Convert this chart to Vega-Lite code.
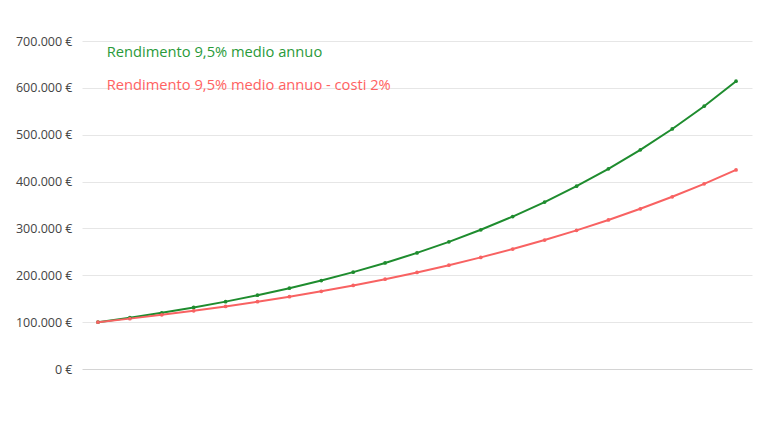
{
  "$schema": "https://vega.github.io/schema/vega-lite/v6.json",
  "width": 670,
  "height": 328,
  "autosize": "none",
  "padding": {"left": 82, "top": 41, "right": 16, "bottom": 63},
  "config": {
    "font": "Open Sans",
    "view": {"stroke": null},
    "locale": {"number": {"decimal": ",", "thousands": ".", "grouping": [3], "currency": ["", " €"]}}
  },
  "data": {"values": [
    {"anno": 0, "serie": "Rendimento 9,5% medio annuo", "valore": 100000},
    {"anno": 1, "serie": "Rendimento 9,5% medio annuo", "valore": 109500},
    {"anno": 2, "serie": "Rendimento 9,5% medio annuo", "valore": 119903},
    {"anno": 3, "serie": "Rendimento 9,5% medio annuo", "valore": 131293},
    {"anno": 4, "serie": "Rendimento 9,5% medio annuo", "valore": 143766},
    {"anno": 5, "serie": "Rendimento 9,5% medio annuo", "valore": 157424},
    {"anno": 6, "serie": "Rendimento 9,5% medio annuo", "valore": 172379},
    {"anno": 7, "serie": "Rendimento 9,5% medio annuo", "valore": 188755},
    {"anno": 8, "serie": "Rendimento 9,5% medio annuo", "valore": 206687},
    {"anno": 9, "serie": "Rendimento 9,5% medio annuo", "valore": 226322},
    {"anno": 10, "serie": "Rendimento 9,5% medio annuo", "valore": 247823},
    {"anno": 11, "serie": "Rendimento 9,5% medio annuo", "valore": 271366},
    {"anno": 12, "serie": "Rendimento 9,5% medio annuo", "valore": 297146},
    {"anno": 13, "serie": "Rendimento 9,5% medio annuo", "valore": 325375},
    {"anno": 14, "serie": "Rendimento 9,5% medio annuo", "valore": 356285},
    {"anno": 15, "serie": "Rendimento 9,5% medio annuo", "valore": 390132},
    {"anno": 16, "serie": "Rendimento 9,5% medio annuo", "valore": 427195},
    {"anno": 17, "serie": "Rendimento 9,5% medio annuo", "valore": 467778},
    {"anno": 18, "serie": "Rendimento 9,5% medio annuo", "valore": 512217},
    {"anno": 19, "serie": "Rendimento 9,5% medio annuo", "valore": 560878},
    {"anno": 20, "serie": "Rendimento 9,5% medio annuo", "valore": 614161},
    {"anno": 0, "serie": "Rendimento 9,5% medio annuo - costi 2%", "valore": 100000},
    {"anno": 1, "serie": "Rendimento 9,5% medio annuo - costi 2%", "valore": 107500},
    {"anno": 2, "serie": "Rendimento 9,5% medio annuo - costi 2%", "valore": 115563},
    {"anno": 3, "serie": "Rendimento 9,5% medio annuo - costi 2%", "valore": 124230},
    {"anno": 4, "serie": "Rendimento 9,5% medio annuo - costi 2%", "valore": 133547},
    {"anno": 5, "serie": "Rendimento 9,5% medio annuo - costi 2%", "valore": 143563},
    {"anno": 6, "serie": "Rendimento 9,5% medio annuo - costi 2%", "valore": 154330},
    {"anno": 7, "serie": "Rendimento 9,5% medio annuo - costi 2%", "valore": 165905},
    {"anno": 8, "serie": "Rendimento 9,5% medio annuo - costi 2%", "valore": 178348},
    {"anno": 9, "serie": "Rendimento 9,5% medio annuo - costi 2%", "valore": 191724},
    {"anno": 10, "serie": "Rendimento 9,5% medio annuo - costi 2%", "valore": 206103},
    {"anno": 11, "serie": "Rendimento 9,5% medio annuo - costi 2%", "valore": 221561},
    {"anno": 12, "serie": "Rendimento 9,5% medio annuo - costi 2%", "valore": 238178},
    {"anno": 13, "serie": "Rendimento 9,5% medio annuo - costi 2%", "valore": 256041},
    {"anno": 14, "serie": "Rendimento 9,5% medio annuo - costi 2%", "valore": 275244},
    {"anno": 15, "serie": "Rendimento 9,5% medio annuo - costi 2%", "valore": 295888},
    {"anno": 16, "serie": "Rendimento 9,5% medio annuo - costi 2%", "valore": 318079},
    {"anno": 17, "serie": "Rendimento 9,5% medio annuo - costi 2%", "valore": 341935},
    {"anno": 18, "serie": "Rendimento 9,5% medio annuo - costi 2%", "valore": 367580},
    {"anno": 19, "serie": "Rendimento 9,5% medio annuo - costi 2%", "valore": 395149},
    {"anno": 20, "serie": "Rendimento 9,5% medio annuo - costi 2%", "valore": 424785}
  ]},
  "encoding": {
    "x": {"field": "anno", "type": "quantitative", "scale": {"domain": [-0.5, 20.5], "nice": false, "zero": false}, "axis": null},
    "y": {"field": "valore", "type": "quantitative", "scale": {"domain": [0, 700000], "nice": false},
      "axis": {"title": null, "values": [0, 100000, 200000, 300000, 400000, 500000, 600000, 700000], "format": "$,.0f", "domain": false, "ticks": false, "labelPadding": 10, "labelFontSize": 12.5, "labelColor": "#444444", "gridWidth": 1,
        "gridColor": {"expr": "datum.value == 0 ? '#d4d4d4' : '#e6e6e6'"}}},
    "color": {"field": "serie", "type": "nominal",
      "scale": {"domain": ["Rendimento 9,5% medio annuo", "Rendimento 9,5% medio annuo - costi 2%"], "range": ["#1e8c2e", "#f86262"]},
      "legend": {"title": null, "orient": "none", "legendX": 10, "legendY": 5, "symbolSize": 0, "symbolStrokeWidth": 0, "symbolOpacity": 0, "labelOffset": 0, "labelFontSize": 14.7, "rowPadding": 17, "labelLimit": 400,
        "labelColor": {"expr": "datum.label == 'Rendimento 9,5% medio annuo' ? '#2a9a3a' : '#ff6262'"}}}
  },
  "layer": [
    {"mark": {"type": "line", "strokeWidth": 2}},
    {"mark": {"type": "point", "filled": true, "size": 14, "opacity": 1}}
  ]
}
